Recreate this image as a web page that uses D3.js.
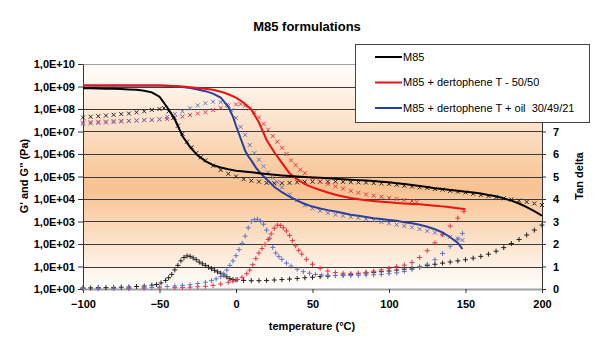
<!DOCTYPE html>
<html>
<head>
<meta charset="utf-8">
<script src="https://cdn.jsdelivr.net/npm/d3@7"></script>
<style>
body { margin: 0; background: #fff; }
svg { font-family: Arial, "Liberation Sans", sans-serif; }
</style>
</head>
<body>
<div id="chart"></div>
<script>
// ---- data ----
// M85 : G' (line), G'' (x), tan delta (+)
const m85StorageT = [-100,-95,-90,-85,-80,-75,-70,-65,-60,-55,-50,-45,-40,-35,-30,-25,-20,-15,-10,-5,0,5,10,15,20,25,30,35,40,45,50,55,60,65,70,75,80,85,90,95,100,105,110,115,120,125,130,135,140,145,150,155,160,165,170,175,180,185,190,195,200];
const m85Storage = [8.3e8,8.3e8,8.1e8,7.9e8,7.9e8,7.8e8,7.4e8,7.1e8,6.5e8,5.5e8,3.5e8,1.2e8,3.5e7,6.3e6,2.0e6,8.5e5,4.8e5,3.2e5,2.5e5,2.1e5,1.8e5,1.66e5,1.55e5,1.41e5,1.29e5,1.2e5,1.12e5,1.05e5,1.0e5,9.5e4,9.1e4,8.7e4,8.3e4,7.9e4,7.6e4,7.2e4,6.9e4,6.6e4,6.3e4,5.9e4,5.5e4,5.0e4,4.6e4,4.2e4,3.8e4,3.4e4,3.0e4,2.75e4,2.5e4,2.3e4,2.1e4,1.95e4,1.74e4,1.5e4,1.32e4,1.07e4,8.5e3,6.3e3,4.4e3,2.9e3,1.8e3];

const m85LossT = [-100,-95,-90,-85,-80,-75,-70,-65,-60,-55,-50,-47,-44,-41,-38,-35,-32,-29,-26,-23,-20,-15,-10,-5,0,5,10,15,20,25,30,35,40,45,50,55,60,65,70,75,80,85,90,95,100,105,110,115,120,125,130,135,140,145,150,155,160,165,170,175,180,185,190,195,200];
const m85Loss = [4.2e7,4.5e7,4.8e7,5.1e7,5.5e7,5.9e7,6.3e7,7.1e7,7.9e7,9.1e7,1.0e8,1.1e8,7.9e7,4.0e7,1.8e7,7.9e6,3.5e6,2.0e6,1.1e6,7.1e5,5.2e5,3.0e5,1.95e5,1.32e5,1.0e5,7.6e4,6.5e4,5.9e4,5.2e4,5.0e4,5.0e4,5.2e4,5.5e4,5.8e4,5.9e4,5.9e4,5.9e4,5.9e4,5.8e4,5.6e4,5.5e4,5.4e4,5.1e4,4.9e4,4.7e4,4.3e4,3.9e4,3.6e4,3.3e4,3.1e4,2.8e4,2.6e4,2.3e4,2.1e4,1.95e4,1.7e4,1.5e4,1.35e4,1.2e4,1.07e4,9.5e3,8.5e3,7.4e3,6.3e3,5.4e3];

const m85TanT = [-100,-95,-90,-85,-80,-75,-70,-65,-60,-55,-52,-49,-46,-44,-42,-40,-38,-36,-34,-32,-30,-28,-26,-24,-22,-20,-18,-16,-14,-12,-10,-8,-6,-4,-2,0,5,10,15,20,25,30,35,40,45,50,55,60,65,70,75,80,85,90,95,100,105,110,115,120,125,130,135,140,145,150,155,160,165,170,175,180,185,190,195,200];
const m85Tan = [0.05,0.05,0.06,0.06,0.07,0.08,0.09,0.11,0.13,0.17,0.2,0.27,0.38,0.5,0.65,0.85,1.05,1.25,1.4,1.47,1.45,1.38,1.3,1.2,1.12,1.05,0.97,0.9,0.83,0.76,0.7,0.62,0.54,0.46,0.42,0.4,0.38,0.37,0.37,0.38,0.4,0.42,0.44,0.47,0.5,0.52,0.55,0.57,0.6,0.62,0.65,0.68,0.71,0.74,0.77,0.8,0.84,0.88,0.93,0.98,1.04,1.1,1.15,1.2,1.25,1.3,1.37,1.45,1.55,1.68,1.84,2.02,2.2,2.4,2.62,2.84];

// M85 + dertophene T - 50/50
const dtStorageT = [-100,-90,-80,-70,-60,-50,-40,-35,-30,-25,-20,-15,-10,-5,0,5,10,15,20,25,30,35,40,45,50,55,60,65,70,75,80,85,90,95,100,105,110,115,120,125,130,135,140,145,150];
const dtStorage = [1.12e9,1.12e9,1.12e9,1.12e9,1.12e9,1.1e9,1.05e9,1.0e9,9.3e8,8.5e8,7.9e8,7.1e8,5.9e8,4.5e8,3.2e8,1.9e8,9.5e7,2.5e7,4.2e6,1.2e6,4.0e5,1.4e5,7.4e4,4.6e4,3.3e4,2.5e4,1.95e4,1.55e4,1.3e4,1.1e4,9.8e3,8.7e3,8.1e3,7.6e3,7.1e3,6.6e3,6.3e3,6.0e3,5.8e3,5.4e3,5.0e3,4.7e3,4.3e3,3.9e3,3.5e3];

const dtLossT = [-100,-95,-90,-85,-80,-75,-70,-65,-60,-55,-50,-45,-40,-35,-30,-25,-20,-15,-10,-5,0,3,6,9,12,15,18,21,24,27,30,33,36,39,42,45,50,55,60,65,70,75,80,85,90,95,100,105,110,115,118];
const dtLoss = [2.5e7,2.6e7,2.7e7,2.75e7,2.9e7,2.95e7,3.0e7,3.1e7,3.2e7,3.25e7,3.4e7,3.6e7,4.0e7,4.6e7,5.4e7,6.3e7,7.2e7,8.9e7,1.12e8,1.4e8,1.6e8,1.66e8,1.4e8,1.07e8,7.1e7,4.2e7,2.2e7,1.2e7,6.3e6,3.5e6,1.9e6,1.0e6,5.2e5,3.2e5,2.0e5,1.4e5,8.5e4,5.9e4,4.6e4,3.6e4,2.9e4,2.3e4,1.9e4,1.6e4,1.4e4,1.26e4,1.12e4,1.0e4,9.1e3,8.1e3,7.4e3];

const dtTanT = [-100,-90,-80,-70,-60,-50,-40,-35,-30,-25,-20,-15,-10,-5,-2,1,4,7,9,11,13,15,17,19,21,23,25,27,29,31,33,35,37,39,41,43,46,50,55,60,65,70,75,80,85,90,95,100,105,110,115,120,125,130,135,140,145,149];
const dtTan = [0.02,0.02,0.03,0.03,0.04,0.05,0.06,0.07,0.08,0.1,0.12,0.16,0.22,0.3,0.35,0.42,0.52,0.68,0.84,1.08,1.35,1.6,1.8,1.98,2.2,2.45,2.7,2.84,2.82,2.72,2.58,2.38,2.15,1.92,1.72,1.55,1.32,1.1,0.92,0.8,0.73,0.7,0.68,0.7,0.74,0.79,0.85,0.92,0.99,1.06,1.18,1.4,1.7,2.05,2.42,2.8,3.15,3.45];

// M85 + dertophene T + oil 30/49/21
const oilStorageT = [-100,-90,-80,-70,-60,-50,-45,-40,-35,-30,-25,-20,-15,-10,-5,-2,0,3,6,8,10,13,16,20,25,30,35,40,45,50,55,60,65,70,75,80,85,90,95,100,105,110,115,120,125,130,135,140,145,148];
const oilStorage = [1.12e9,1.12e9,1.12e9,1.12e9,1.12e9,1.12e9,1.07e9,1.02e9,9.5e8,8.5e8,7.4e8,6.2e8,4.8e8,3.2e8,1.26e8,4.6e7,1.8e7,5.0e6,1.4e6,7.9e5,5.2e5,2.5e5,1.4e5,7.6e4,3.5e4,2.0e4,1.26e4,8.5e3,6.0e3,4.6e3,3.8e3,3.2e3,2.8e3,2.4e3,2.0e3,1.8e3,1.6e3,1.4e3,1.3e3,1.17e3,1.07e3,9.3e2,8.3e2,7.1e2,5.8e2,4.5e2,3.3e2,2.0e2,1.12e2,60];

const oilLossT = [-100,-95,-90,-85,-80,-75,-70,-65,-60,-55,-50,-45,-40,-35,-30,-25,-20,-15,-10,-6,-3,0,3,6,9,12,15,18,21,24,27,30,35,40,45,50,55,60,65,70,75,80,85,90,95,100,105,110,115,120,125,130,135,140,145,148];
const oilLoss = [2.2e7,2.3e7,2.4e7,2.5e7,2.6e7,2.75e7,2.9e7,3.0e7,3.2e7,3.3e7,3.5e7,4.5e7,6.0e7,7.9e7,1.07e8,1.45e8,1.8e8,2.1e8,2.0e8,1.5e8,8.9e7,4.0e7,1.6e7,7.1e6,2.5e6,1.1e6,5.6e5,2.8e5,1.5e5,8.9e4,5.6e4,3.3e4,1.6e4,8.9e3,5.2e3,3.8e3,3.0e3,2.4e3,2.0e3,1.8e3,1.6e3,1.45e3,1.3e3,1.12e3,9.5e2,8.3e2,7.2e2,6.3e2,5.5e2,4.6e2,3.8e2,3.2e2,2.6e2,2.1e2,1.74e2,1.5e2];

const oilTanT = [-100,-90,-80,-70,-60,-55,-50,-45,-40,-35,-30,-25,-20,-16,-13,-10,-8,-6,-4,-2,0,2,4,6,8,10,12,14,16,18,20,22,24,26,28,30,33,36,40,44,48,52,56,60,65,70,75,80,85,90,95,100,105,110,115,120,125,130,135,140,145,148];
const oilTan = [0.02,0.02,0.03,0.04,0.05,0.07,0.09,0.11,0.13,0.16,0.19,0.24,0.3,0.37,0.45,0.55,0.68,0.84,1.05,1.25,1.48,1.75,2.03,2.35,2.72,3.0,3.08,3.1,3.02,2.88,2.62,2.25,1.85,1.6,1.45,1.32,1.15,1.02,0.88,0.77,0.7,0.65,0.62,0.61,0.6,0.6,0.6,0.61,0.62,0.63,0.65,0.68,0.72,0.78,0.87,0.97,1.1,1.3,1.58,1.9,2.22,2.47];

// axis ticks (tan delta labels above 7 sit under the legend box)
const tempTicks = [-100, -50, 0, 50, 100, 150, 200];
const modulusTicks = [1e0, 1e1, 1e2, 1e3, 1e4, 1e5, 1e6, 1e7, 1e8, 1e9, 1e10];
const tanTicks = [0, 1, 2, 3, 4, 5, 6, 7];
const legendLabels = ['M85', 'M85 + dertophene T - 50/50', 'M85 + dertophene T + oil  30/49/21'];

// ---- layout ----
const W = 615, H = 350;
const plotL = 83, plotR = 542, plotT = 64, plotB = 289;

const svg = d3.select('#chart').append('svg')
    .attr('width', W)
    .attr('height', H);

const x = d3.scaleLinear().domain([-100, 200]).range([plotL, plotR]);
const yG = d3.scaleLog().domain([1, 1e10]).range([plotB, plotT]);
const yTan = d3.scaleLinear().domain([0, 10]).range([plotB, plotT]);

// plot area gradient
const grad = svg.append('defs').append('linearGradient')
    .attr('id', 'bg')
    .attr('x1', 0).attr('y1', 0).attr('x2', 0).attr('y2', 1);
grad.append('stop').attr('offset', '0%').attr('stop-color', '#ffffff');
grad.append('stop').attr('offset', '55%').attr('stop-color', '#f8c290');
grad.append('stop').attr('offset', '100%').attr('stop-color', '#ffffff');

svg.append('rect')
    .attr('x', plotL).attr('y', plotT)
    .attr('width', plotR - plotL).attr('height', plotB - plotT)
    .attr('fill', 'url(#bg)');

// gridlines
svg.append('g').selectAll('line')
    .data(modulusTicks.slice(1))
    .join('line')
    .attr('x1', plotL).attr('x2', plotR)
    .attr('y1', d => Math.round(yG(d)) + 0.5)
    .attr('y2', d => Math.round(yG(d)) + 0.5)
    .attr('stroke', d => d === 1e10 ? '#a0a0a0' : '#3a3a3a')
    .attr('stroke-width', 1);

// axes
const fmtExp = d => '1,0E+' + String(Math.round(Math.log10(d))).padStart(2, '0');

const gLeft = svg.append('g')
    .attr('transform', `translate(${plotL},0)`)
    .call(d3.axisLeft(yG).tickValues(modulusTicks).tickFormat(fmtExp).tickSize(5).tickSizeOuter(0).tickPadding(3));

const gRight = svg.append('g')
    .attr('transform', `translate(${plotR},0)`)
    .call(d3.axisRight(yTan).tickValues(tanTicks).tickFormat(d3.format('d')).tickSize(4).tickSizeOuter(0).tickPadding(7));

const gBottom = svg.append('g')
    .attr('transform', `translate(0,${plotB})`)
    .call(d3.axisBottom(x).tickValues(tempTicks).tickFormat(d3.format('d')).tickSize(4).tickSizeOuter(0).tickPadding(7));

[gLeft, gRight, gBottom].forEach(g => {
    g.selectAll('text')
        .attr('fill', '#000')
        .style('font-size', '11px')
        .style('font-weight', 'bold');
    g.selectAll('.tick line').attr('stroke', '#333');
    g.select('.domain').attr('stroke', '#333');
});
gBottom.select('.domain').attr('stroke', '#a0a0a0').attr('stroke-width', 2);

// series drawing
const lineOf = (scale) => d3.line()
    .x(d => x(d[0]))
    .y(d => scale(d[1]));

const pairs = (ts, vs) => ts.map((t, i) => [t, vs[i]]);

const crossPath = 'M-2,-2L2,2M-2,2L2,-2';
const plusPath = 'M-2.5,0H2.5M0,-2.5V2.5';

function markers(ts, vs, scale, shape, color) {
    svg.append('g').selectAll('path')
        .data(pairs(ts, vs))
        .join('path')
        .attr('transform', d => `translate(${x(d[0])},${scale(d[1])})`)
        .attr('d', shape)
        .attr('fill', 'none')
        .attr('stroke', color)
        .attr('stroke-width', 1);
}

function curve(ts, vs, color) {
    svg.append('path')
        .datum(pairs(ts, vs))
        .attr('d', lineOf(yG))
        .attr('fill', 'none')
        .attr('stroke', color)
        .attr('stroke-width', 2);
}

const black = '#000000', red = '#ee1111', blue = '#2b3f9e';
const blackMark = '#222222', redMark = '#ee3344', blueMark = '#6274c4';

// tan delta
markers(m85TanT, m85Tan, yTan, plusPath, blackMark);
markers(dtTanT, dtTan, yTan, plusPath, redMark);
markers(oilTanT, oilTan, yTan, plusPath, blueMark);

// loss modulus
markers(m85LossT, m85Loss, yG, crossPath, blackMark);
markers(dtLossT, dtLoss, yG, crossPath, redMark);
markers(oilLossT, oilLoss, yG, crossPath, blueMark);

// storage modulus
curve(oilStorageT, oilStorage, blue);
curve(dtStorageT, dtStorage, red);
curve(m85StorageT, m85Storage, black);

// titles
svg.append('text')
    .attr('x', 307).attr('y', 31)
    .attr('text-anchor', 'middle')
    .style('font-size', '13px')
    .style('font-weight', 'bold')
    .text('M85 formulations');

svg.append('text')
    .attr('x', 312).attr('y', 330)
    .attr('text-anchor', 'middle')
    .style('font-size', '11px')
    .style('font-weight', 'bold')
    .text('temperature (°C)');

svg.append('text')
    .attr('transform', 'translate(24,176) rotate(-90)')
    .attr('text-anchor', 'middle')
    .attr('dy', '0.35em')
    .style('font-size', '11px')
    .style('font-weight', 'bold')
    .text("G' and G'' (Pa)");

svg.append('text')
    .attr('transform', 'translate(579,176) rotate(-90)')
    .attr('text-anchor', 'middle')
    .attr('dy', '0.35em')
    .style('font-size', '11px')
    .style('font-weight', 'bold')
    .text('Tan delta');

// legend
const legend = svg.append('g');
legend.append('rect')
    .attr('x', 355.5).attr('y', 44.5)
    .attr('width', 234).attr('height', 78)
    .attr('fill', '#fff')
    .attr('stroke', '#444');

const legendColors = [black, red, blue];
legendLabels.forEach((label, i) => {
    const ly = 57 + i * 25.5;
    legend.append('line')
        .attr('x1', 375).attr('x2', 402)
        .attr('y1', ly).attr('y2', ly)
        .attr('stroke', legendColors[i])
        .attr('stroke-width', 2);
    legend.append('text')
        .attr('x', 403).attr('y', ly)
        .attr('dy', '0.35em')
        .style('font-size', '11px')
        .style('white-space', 'pre')
        .text(label);
});
</script>
</body>
</html>
